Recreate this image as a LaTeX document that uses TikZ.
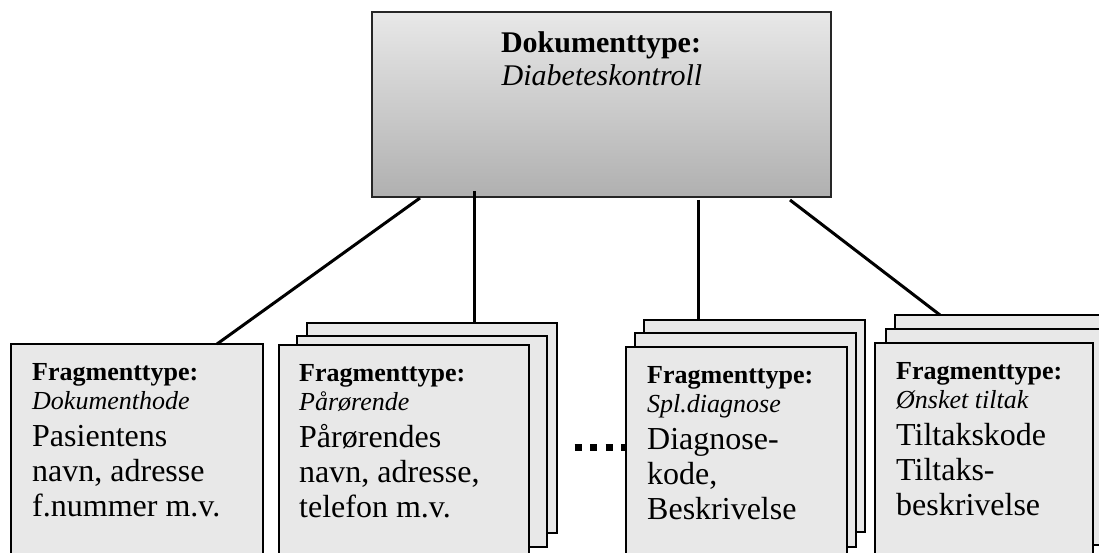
\documentclass[tikz,border=0pt]{standalone}
\usepackage{fontspec}
\setmainfont{Liberation Serif}
\usetikzlibrary{calc}
\begin{document}
\begin{tikzpicture}[x=1pt,y=1pt,
  fbox/.style={draw=black, fill=black!9, line width=1.3pt, inner sep=0pt, outer sep=0pt, anchor=north west},
  conn/.style={draw=black, line width=3pt},
  smb/.style={anchor=base west, inner sep=0pt, font=\fontsize{26}{30}\selectfont\bfseries},
  smi/.style={anchor=base west, inner sep=0pt, font=\fontsize{26}{30}\selectfont\itshape},
  big/.style={anchor=base west, inner sep=0pt, font=\fontsize{32}{36}\selectfont},
  dots/.style={draw=black, line width=7pt, dash pattern=on 7pt off 8.5pt}]
\useasboundingbox (0,0) rectangle (1099,-553);
% top box
\node[draw=black!85, line width=1.6pt, top color=black!9, bottom color=black!31, inner sep=0pt, outer sep=0pt,
  minimum width=459pt, minimum height=185pt, anchor=north west] (doc) at (372,-12) {};
\node[anchor=base, inner sep=0pt, font=\fontsize{30}{36}\selectfont\bfseries] (doct) at (601,-53) {Dokumenttype:};
\node[anchor=base, inner sep=0pt, font=\fontsize{30}{36}\selectfont\itshape] (docn) at (602,-86) {Diabeteskontroll};
% dots
\coordinate (d1) at (574.5,-447);
\coordinate (d2) at (628,-447);
\draw[dots] (d1) -- (d2);
% box 1
\node[fbox, minimum width=252pt, minimum height=215pt] (f1) at (11,-344) {};
% box 2 stack
\node[fbox, minimum width=250pt, minimum height=210pt] (f2c) at (307,-323) {};
\node[fbox, minimum width=250pt, minimum height=211pt] (f2b) at (297,-336) {};
\node[fbox, minimum width=250pt, minimum height=215pt] (f2) at (279,-345) {};
% box 3 stack
\node[fbox, minimum width=221pt, minimum height=212pt] (f3c) at (644,-320) {};
\node[fbox, minimum width=221pt, minimum height=214pt] (f3b) at (635,-333) {};
\node[fbox, minimum width=221pt, minimum height=212pt] (f3) at (626,-347) {};
% box 4 stack
\node[fbox, minimum width=221pt, minimum height=215pt] (f4c) at (895,-315) {};
\node[fbox, minimum width=221pt, minimum height=216pt] (f4b) at (886,-329) {};
\node[fbox, minimum width=218pt, minimum height=215pt] (f4) at (875,-343) {};
% connectors
\draw[conn] ($(doc.south west)+(48,-1)$) -- ($(f1.north west)+(206,0)$);
\draw[conn] ($(doc.south west)+(102,6)$) -- ($(f2c.north west)+(167,0)$);
\draw[conn] ($(doc.south west)+(326,-3)$) -- ($(f3c.north west)+(54,0)$);
\draw[conn] ($(doc.south west)+(418,-3)$) -- ($(f4c.north west)+(45,0)$);
% texts box 1
\node[smb] (t1a) at ($(f1.north west)+(21,-36)$) {Fragmenttype:};
\node[smi] (t1b) at ($(f1.north west)+(21,-65)$) {Dokumenthode};
\node[big] (t1c) at ($(f1.north west)+(21,-102)$) {Pasientens};
\node[big] (t1d) at ($(f1.north west)+(21,-137)$) {navn, adresse};
\node[big] (t1e) at ($(f1.north west)+(21,-172)$) {f.nummer m.v.};
% texts box 2
\node[smb] (t2a) at ($(f2.north west)+(20,-36)$) {Fragmenttype:};
\node[smi] (t2b) at ($(f2.north west)+(20,-65)$) {Pårørende};
\node[big] (t2c) at ($(f2.north west)+(20,-102)$) {Pårørendes};
\node[big] (t2d) at ($(f2.north west)+(20,-137)$) {navn, adresse,};
\node[big] (t2e) at ($(f2.north west)+(20,-172)$) {telefon m.v.};
% texts box 3
\node[smb] (t3a) at ($(f3.north west)+(21,-36)$) {Fragmenttype:};
\node[smi] (t3b) at ($(f3.north west)+(21,-65)$) {Spl.diagnose};
\node[big] (t3c) at ($(f3.north west)+(21,-102)$) {Diagnose-};
\node[big] (t3d) at ($(f3.north west)+(21,-137)$) {kode,};
\node[big] (t3e) at ($(f3.north west)+(21,-172)$) {Beskrivelse};
% texts box 4
\node[smb] (t4a) at ($(f4.north west)+(21,-36)$) {Fragmenttype:};
\node[smi] (t4b) at ($(f4.north west)+(21,-65)$) {Ønsket tiltak};
\node[big] (t4c) at ($(f4.north west)+(21,-102)$) {Tiltakskode};
\node[big] (t4d) at ($(f4.north west)+(21,-137)$) {Tiltaks-};
\node[big] (t4e) at ($(f4.north west)+(21,-172)$) {beskrivelse};
\end{tikzpicture}
\end{document}
